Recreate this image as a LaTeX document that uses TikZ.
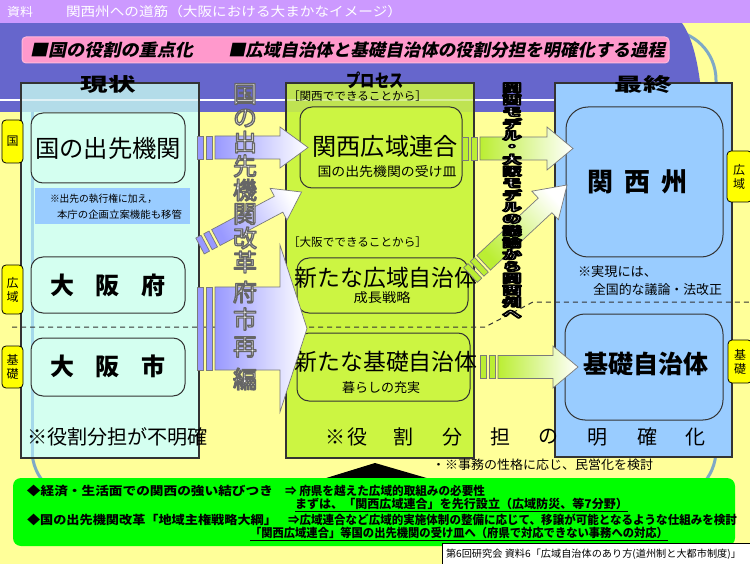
\documentclass[tikz,border=0pt]{standalone}
\usepackage{fontspec}
\setmainfont{Noto Sans CJK JP}
\newfontfamily\bannerfont[FakeSlant=0.2]{Noto Sans CJK JP}
\usetikzlibrary{calc}
\definecolor{bgyellow}{HTML}{FFFF99}
\definecolor{hdr}{HTML}{CC99FF}
\definecolor{band}{HTML}{6666CC}
\definecolor{pinkfill}{HTML}{FF99CC}
\definecolor{mint}{HTML}{D4FFF0}
\definecolor{lgreen}{HTML}{CCF542}
\definecolor{lblue}{HTML}{99CCFF}
\definecolor{brightgreen}{HTML}{00FF00}
\definecolor{labyellow}{HTML}{FFFF00}
\definecolor{tealline}{HTML}{7FA9C6}
\definecolor{tealstripe}{HTML}{A4D8EA}
\definecolor{arrblue}{HTML}{9999FF}
\definecolor{arrgreen}{HTML}{BBEE33}
\definecolor{arrgray}{HTML}{7A7A7A}
\definecolor{boxline}{HTML}{333333}
\newcommand\fs[1]{\fontsize{#1}{#1}\selectfont}
\newcommand\fitto[2]{\resizebox{#1pt}{\height}{#2}}
\newcommand\sarrow[8]{%
 \begin{scope}[shift={(#1,#2)},rotate=#3]
  \pgfmathsetmacro\shang{90+#3}
  \filldraw[arrline,fill=#8] (0,-#5) rectangle (6,#5);
  \filldraw[arrline,fill=#8] (9,-#5) rectangle (15,#5);
  \shadedraw[arrline,left color=#8,right color=white,shading angle=\shang] (18,-#5) -- ({#4-#7},-#5) -- ({#4-#7},-#6) -- (#4,0) -- ({#4-#7},#6) -- ({#4-#7},#5) -- (18,#5) -- cycle;
 \end{scope}}
% outlined glyphs: fill colour from the node text colour, stroke set here
\newcommand\strokeon[2]{\special{pdf:literal direct 1 j 2 Tr #1 w #2 RG}}
\newcommand\strokeoff{\special{pdf:literal direct 0 Tr 0.4 w}}
\tikzset{
 colbox/.style={draw=boxline, line width=1.2},
 ibox/.style={draw=boxline, line width=1, rounded corners=12},
 lab/.style={draw=black, line width=0.8, fill=labyellow, rounded corners=4},
 arrline/.style={draw=arrgray, line width=0.7},
 labtxt/.style={font=\fontsize{12}{14}\selectfont, align=center},
 dashline/.style={draw=boxline, line width=1, dash pattern=on 5pt off 4pt},
 oltext/.style={text=white, font=\fs{24}},
 darktext/.style={text=white, font=\fs{19}\bfseries},
}
\begin{document}
\begin{tikzpicture}[x=1pt,y=-1pt, every node/.style={inner sep=0pt, outer sep=0pt}]
\useasboundingbox (0,0) rectangle (750,564);
\fill[bgyellow] (0,0) rectangle (750,564);
% big rounded outline
\draw[tealline, line width=3, rounded corners=50] (32,30) rectangle (716,500);
% blue band
\fill[band] (0,23) -- (682,23) .. controls (694,40) and (700,70) .. (703,112) -- (0,112) -- cycle;
\draw[white, line width=2] (0,100) -- (555,100);
% header
\fill[hdr] (0,0) rectangle (750,23);
\node[anchor=west, text=white, font=\fs{12}] (h1) at (7,11.5) {\fitto{26}{資料}};
\node[anchor=west, text=white, font=\fs{13}] (h2) at (66,11.5) {\fitto{336}{関西州への道筋（大阪における大まかなイメージ）}};
% banner
\draw[draw=pinkfill!70!white, fill=pinkfill, rounded corners=4, line width=1] (22,37) rectangle (669,63);
\node[anchor=west, font=\bannerfont\bfseries\fs{17}] (b1) at (30,50) {\fitto{163}{■国の役割の重点化}};
\node[anchor=west, font=\bannerfont\bfseries\fs{17}] (b2) at (228,50) {\fitto{437}{■広域自治体と基礎自治体の役割分担を明確化する過程}};
% left column
\fill[mint] (21,83) rectangle (199,458);
\fill[tealstripe!80!band, opacity=0.55] (21,83) rectangle (199,112);
\draw[white, opacity=0.6, line width=2] (21,100) -- (199,100);
\draw[tealstripe, line width=3] (32,112) -- (32,458);
\draw[colbox] (21,83) rectangle (199,458);
% middle column
\fill[lgreen] (286,83) rectangle (474,458);
\fill[band, opacity=0.12] (286,83) rectangle (474,112);
\draw[white, opacity=0.4, line width=2] (286,100) -- (474,100);
\draw[colbox] (286,83) rectangle (474,458);
% right column
\fill[lblue] (555,83) rectangle (732,457);
\draw[colbox] (555,83) rectangle (732,457);
% column titles
\node[font=\fs{22}\bfseries] (t1) at (108,84) {\scalebox{1.25}[0.85]{現状}};
\node[font=\fs{19}\bfseries] (t2) at (375,80) {\scalebox{0.75}[0.95]{プロセス}};
\node[font=\fs{22}\bfseries] (t3) at (643,84) {\scalebox{1.3}[0.85]{最終}};
% dashed divider
\draw[dashline] (12,327) -- (485,327) -- (533,302) -- (750,302);
% left inner
\draw[ibox, fill=mint] (31,113) rectangle (185,183);
\node[font=\fs{24}] (kuni) at (108,148) {\fitto{146}{国の出先機関}};
\fill[lblue] (35,188) rectangle (190,224);
\node[anchor=west, font=\fs{10}] (n1) at (50,199) {\fitto{107}{※出先の執行権に加え，}};
\node[anchor=west, font=\fs{10}] (n2) at (57,215) {\fitto{125}{本庁の企画立案機能も移管}};
\draw[ibox, fill=mint] (31,257) rectangle (185,313);
\node[font=\fs{24}\bfseries] (fu) at (108,285) {大\hspace{22pt}阪\hspace{22pt}府};
\draw[ibox, fill=mint] (31,338) rectangle (185,396);
\node[font=\fs{24}\bfseries] (shi) at (108,366) {大\hspace{22pt}阪\hspace{22pt}市};
\node[anchor=west, font=\fs{20}] (fumei) at (27,437) {\fitto{181}{※役割分担が不明確}};
% middle inner
\node[anchor=west, font=\fs{11.5}] (kt1) at (288,96) {\fitto{139}{［関西でできることから］}};
\draw[ibox, fill=lgreen] (300,107) rectangle (462,188);
\node[font=\fs{24}] (rengo) at (385,146) {\fitto{145}{関西広域連合}};
\node[font=\fs{13}] (ukezara) at (387,172) {\fitto{139}{国の出先機関の受け皿}};
\node[anchor=west, font=\fs{11.5}] (kt2) at (288,242) {\fitto{139}{［大阪でできることから］}};
\draw[ibox, fill=lgreen] (297,258) rectangle (468,313);
\node[font=\fs{23}] (kouiki) at (386,278) {\fitto{183}{新たな広域自治体}};
\node[font=\fs{13}] (seicho) at (382,298) {\fitto{57}{成長戦略}};
\draw[ibox, fill=lgreen] (297,333) rectangle (470,401);
\node[font=\fs{23}] (kiso) at (386,362) {\fitto{183}{新たな基礎自治体}};
\node[font=\fs{13}] (kurashi) at (381,388) {\fitto{78}{暮らしの充実}};
% right inner
\draw[ibox, fill=lblue, rounded corners=22] (566,107) rectangle (723,257);
\node[font=\fs{26}\bfseries] (shu) at (637,182) {関\hspace{11pt}西\hspace{11pt}州};
\node[anchor=west, font=\fs{13}] (jitsu1) at (578,272) {\fitto{79}{※実現には、}};
\node[anchor=west, font=\fs{13}] (jitsu2) at (593,290) {\fitto{129}{全国的な議論・法改正}};
\draw[ibox, fill=lblue, rounded corners=20] (565,314) rectangle (723,420);
\node[font=\fs{25}\bfseries] (kisoj) at (646,364) {\fitto{125}{基礎自治体}};
% clarified roles
\foreach \c/\xx in {※/335,役/357,割/403,分/452,担/500,の/548,明/597,確/647,化/695}
 {\node[font=\fs{20}] at (\xx,437) {\c};}
% side labels
\draw[lab] (2,120) rectangle (23,163);
\node[labtxt] (lk) at (12.5,141.5) {国};
\draw[lab] (2,265) rectangle (23,314);
\node[labtxt] (lko) at (12.5,289.5) {広\\域};
\draw[lab] (2,346) rectangle (23,388);
\node[labtxt] (lki) at (12.5,367) {基\\礎};
\draw[lab] (727,151) rectangle (752,202);
\node[labtxt] (rko) at (739,176.5) {広\\域};
\draw[lab] (728,340) rectangle (752,383);
\node[labtxt] (rki) at (740,361.5) {基\\礎};
% arrows
\sarrow{197}{147.5}{0}{111}{11.5}{20.5}{28}{arrblue}
\sarrow{200}{246}{28}{115}{9}{18}{26}{arrblue}
\sarrow{197}{328.5}{0}{110}{41.5}{83.5}{27}{arrblue}
\sarrow{462}{148.5}{0}{111}{11.5}{21.5}{26}{arrgreen}
\sarrow{470.5}{275}{43}{132}{10}{19.5}{30}{arrgreen}
\sarrow{480}{367}{0}{98}{11.5}{21}{25}{arrgreen}
% vertical texts
\foreach \c/\yy in {国/94,の/118,出/142,先/166,機/190,関/214,改/238,革/262,府/292,市/319,再/347,編/379}
 {\node[oltext] at (245,\yy) {\strokeon{1.3}{0.4 0.4 0.4}\c\strokeoff};}
\foreach \c [count=\i from 0] in {関,西,モ,デ,ル,・,大,阪,モ,デ,ル,の,議,論,か,ら,関,西,州,へ}
 {\pgfmathsetmacro\yy{88+\i*11.9}
  \node[darktext] at (512,\yy) {\scalebox{1}[0.6]{\strokeon{2.4}{0 0 0}\c\strokeoff}};}
% bottom
\fill[black] (323,479) -- (375,463) -- (430,479) -- cycle;
\node[anchor=west, font=\fs{12.5}] (minei) at (432,465) {\fitto{221}{・※事務の性格に応じ、民営化を検討}};
\fill[brightgreen, rounded corners=8] (13,478) rectangle (735,546);
\node[anchor=west, font=\fs{12}\bfseries] (g1a) at (27,491) {\fitto{246}{◆経済・生活面での関西の強い結びつき}};
\node[anchor=west, font=\fs{12}\bfseries] (g1b) at (285,491) {\fitto{200}{⇒ 府県を越えた広域的取組みの必要性}};
\node[anchor=west, font=\fs{12}\bfseries] (g2) at (295,505) {\fitto{333}{\underline{まずは、「関西広域連合」を先行設立（広域防災、等7分野）}}};
\node[anchor=west, font=\fs{12}\bfseries] (g3a) at (27,520) {\fitto{250}{◆国の出先機関改革「地域主権戦略大綱」}};
\node[anchor=west, font=\fs{12}\bfseries] (g3b) at (288,520) {\fitto{449}{⇒広域連合など広域的実施体制の整備に応じて、移譲が可能となるような仕組みを検討}};
\node[anchor=west, font=\fs{12}\bfseries] (g4) at (250,534) {\fitto{418}{\underline{「関西広域連合」等国の出先機関の受け皿へ（府県で対応できない事務への対応）}}};
\draw[black, fill=white, line width=0.8] (442,543) rectangle (752,566);
\node[anchor=west, font=\fs{10}] (src) at (446,554) {\fitto{295}{第6回研究会 資料6「広域自治体のあり方(道州制と大都市制度)」}};
\end{tikzpicture}
\end{document}
